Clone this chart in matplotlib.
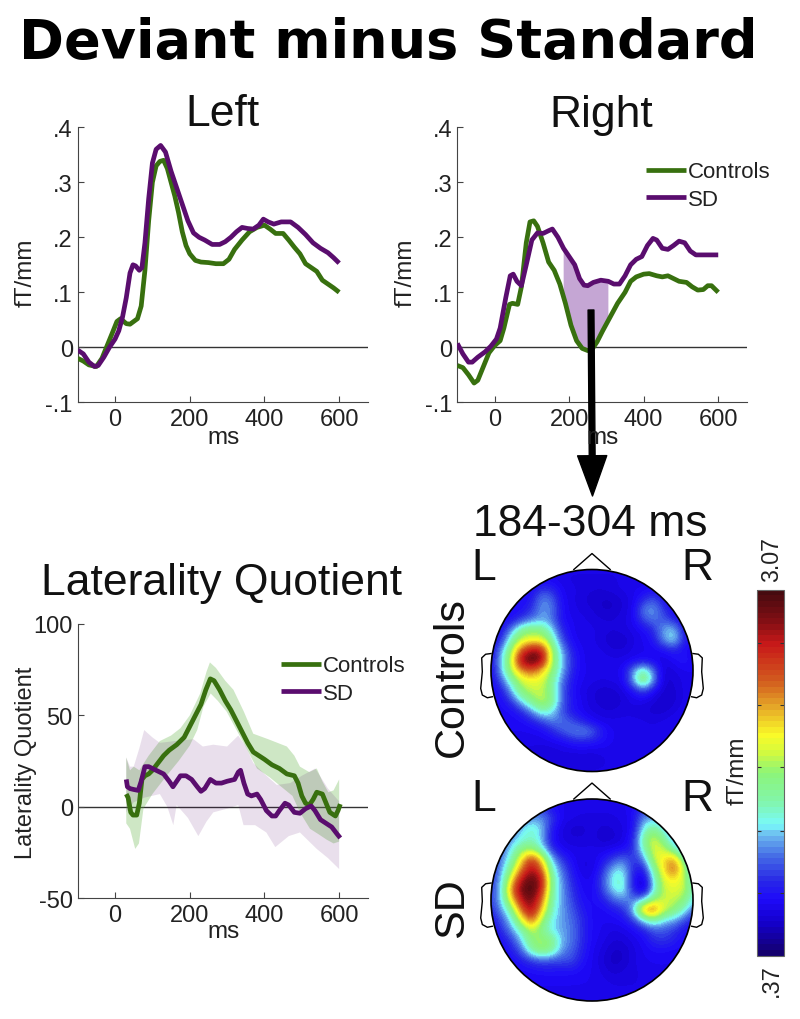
import matplotlib
matplotlib.use('Agg')
import matplotlib.pyplot as plt
import numpy as np
from matplotlib.colors import LinearSegmentedColormap
from matplotlib.patches import Circle

plt.rcParams['font.family'] = ['Liberation Sans', 'DejaVu Sans']

GREEN = '#38700f'
PURPLE = '#5a0d6e'
GREY = '#444444'

#################### DATA ####################
left_ctrl_ms = [-100, -85, -70, -50, -35, -20, -5, 5, 15, 30, 40, 50, 60, 70, 80, 90, 100, 110, 120, 130, 140, 150, 160, 170, 180, 190, 200, 215, 230, 250, 270, 290, 305, 320, 340, 360, 380, 400, 415, 430, 450, 465, 480, 495, 510, 525, 540, 555, 570, 585, 600]
left_ctrl = [-.02, -.025, -.032, -.035, -.02, .005, .03, .047, .052, .043, .042, .047, .052, .075, .14, .23, .30, .33, .338, .34, .325, .30, .275, .245, .21, .185, .17, .158, .155, .154, .152, .152, .16, .178, .195, .21, .218, .222, .215, .207, .207, .195, .182, .17, .152, .145, .138, .122, .115, .108, .10]
left_sd_ms = [-100, -85, -70, -55, -45, -30, -15, 0, 10, 20, 30, 40, 48, 55, 65, 72, 80, 90, 100, 110, 122, 135, 150, 165, 180, 195, 210, 225, 240, 260, 280, 295, 310, 325, 340, 355, 370, 385, 397, 410, 425, 445, 470, 490, 510, 530, 550, 570, 585, 600]
left_sd = [-.005, -.012, -.027, -.035, -.033, -.018, 0, .015, .03, .055, .09, .135, .15, .148, .14, .145, .19, .27, .335, .36, .367, .355, .32, .29, .26, .23, .208, .2, .195, .187, .187, .192, .2, .21, .218, .216, .215, .222, .233, .228, .224, .228, .228, .218, .205, .19, .18, .172, .163, .153]

right_ctrl_ms = [-100, -85, -70, -55, -45, -30, -15, 0, 15, 25, 40, 48, 62, 72, 85, 95, 105, 115, 130, 145, 160, 175, 190, 205, 220, 235, 250, 262, 275, 290, 310, 330, 350, 365, 380, 400, 415, 435, 450, 465, 480, 495, 515, 530, 545, 560, 572, 582, 600]
right_ctrl = [-.033, -.037, -.05, -.065, -.06, -.035, -.01, .003, .012, .035, .078, .08, .078, .11, .19, .228, .23, .22, .19, .155, .14, .115, .08, .04, .012, -.002, -.006, -.003, .01, .03, .055, .08, .1, .12, .128, .133, .134, .13, .128, .13, .125, .12, .118, .11, .104, .105, .112, .112, .1]
right_sd_ms = [-100, -85, -70, -60, -45, -25, -10, 5, 15, 30, 42, 50, 60, 72, 85, 100, 115, 130, 145, 155, 170, 185, 200, 215, 228, 240, 250, 265, 285, 305, 320, 335, 350, 365, 380, 395, 410, 425, 435, 450, 465, 480, 495, 510, 525, 540, 560, 580, 600]
right_sd = [.007, -.012, -.027, -.027, -.018, -.008, .002, .015, .035, .09, .13, .133, .12, .112, .15, .195, .208, .207, .212, .215, .2, .18, .165, .15, .125, .113, .112, .118, .122, .12, .115, .115, .13, .15, .16, .165, .185, .198, .195, .18, .178, .185, .193, .19, .175, .168, .168, .168, .168]

shade_ms = [184, 200, 215, 228, 240, 250, 265, 285, 304]
shade_top = [.18, .165, .15, .125, .113, .112, .118, .122, .12]
shade_bottom = [.095, .053, .02, .005, -.002, -.006, 0, .023, .047]

lq_ctrl_ms = [30, 35, 42, 48, 58, 65, 72, 80, 90, 100, 115, 130, 145, 165, 185, 200, 215, 230, 243, 255, 265, 280, 295, 310, 325, 340, 355, 370, 385, 400, 420, 440, 460, 480, 490, 500, 510, 520, 530, 540, 555, 565, 575, 590, 597, 603]
lq_ctrl = [7, 5, -3, -4.5, -4.5, 2, 15, 17, 18, 20, 24, 28, 31, 34, 38, 44, 50, 56, 64, 70, 69, 64, 58, 53, 47, 41, 35, 30, 28, 26, 23, 21, 18, 17, 13, 6, 2, 1, 4, 8, 7, 2, -3, -5, -2, 1.5]
lq_sd_ms = [30, 33, 40, 50, 62, 70, 80, 90, 100, 115, 130, 145, 155, 165, 175, 190, 205, 220, 230, 240, 255, 270, 285, 300, 320, 330, 336, 345, 355, 365, 380, 390, 405, 420, 430, 440, 455, 465, 480, 495, 510, 525, 535, 550, 565, 580, 595, 603]
lq_sd = [15, 11, 10, 9.5, 9, 14, 22, 22, 21, 19.5, 18, 14, 11, 14, 17, 17, 15, 11, 8.5, 10, 15, 13, 13, 14, 15, 19, 20, 13, 7, 6, 7, 4, -2, -5, -5, -2, 2, 1, -3, -3.5, -1, .5, -2, -7, -9, -11, -15, -17]

lq_ctrl_up_ms = [30, 40, 50, 65, 90, 120, 150, 175, 200, 228, 245, 254, 270, 295, 317, 345, 370, 410, 460, 480, 495, 520, 540, 555, 571, 585, 600]
lq_ctrl_up = [27, 20, 22, 20, 28, 36, 39, 43, 50, 62, 74, 79, 76, 69, 64, 52, 40, 37, 33, 28, 22, 19, 21, 14, 8, 9, 15]
lq_ctrl_lo_ms = [30, 40, 54, 64, 76, 100, 138, 170, 200, 220, 237, 256, 275, 299, 320, 344, 380, 415, 451, 475, 495, 522, 545, 567, 585, 600]
lq_ctrl_lo = [-9, -12, -23, -20, -1, 7, 17, 25, 33.5, 42, 55, 62, 58, 52, 44, 35, 21, 16, 10, 6, -3, -12, -15, -18, -20, -19]
lq_sd_up_ms = [30, 40, 50, 65, 78, 100, 120, 160, 210, 235, 263, 300, 330, 350, 370, 400, 433, 469, 500, 536, 570, 600]
lq_sd_up = [27, 22, 22, 32, 42, 38, 35, 36, 37, 33, 34, 33, 39, 33, 24, 18, 12, 13, 17, 21, 10, 3]
lq_sd_lo_ms = [30, 50, 78, 120, 140, 156, 165, 195, 223, 245, 263, 300, 330, 344, 375, 405, 429, 465, 495, 520, 540, 570, 600]
lq_sd_lo = [-3, 2.5, 5, 7, 0, -10, 1, -6, -16, -8, -3, -1, 1, -10, -10, -14, -22, -16, -14, -19, -23, -28, -34]

# percent of the colour bar range, rows top to bottom of the head
topo_ctrl = [
    [13, 13, 13, 13, 13, 13, 13, 13, 13, 13, 13, 13, 13, 13, 13, 13, 13, 13, 13, 13, 13],
    [14, 14, 14, 14, 14, 14, 14, 13, 12, 12, 12, 12, 12, 13, 13, 13, 13, 13, 13, 13, 13],
    [15, 15, 15, 15, 15, 22, 20, 14, 13, 12, 11, 11, 12, 13, 14, 14, 16, 15, 14, 14, 14],
    [15, 15, 15, 15, 18, 30, 27, 15, 13, 11, 10, 9, 9, 11, 13, 20, 25, 17, 14, 14, 14],
    [15, 15, 15, 16, 21, 31, 29, 16, 13, 12, 11, 9, 9, 11, 14, 29, 32, 22, 15, 14, 14],
    [15, 15, 16, 23, 28, 32, 28, 16, 14, 13, 12, 11, 11, 12, 14, 24, 28, 25, 20, 14, 14],
    [15, 16, 30, 46, 50, 48, 36, 20, 14, 13, 13, 12, 11, 12, 13, 15, 20, 32, 36, 18, 14],
    [15, 20, 42, 56, 58, 58, 44, 24, 15, 13, 13, 11, 9, 9, 12, 14, 17, 30, 38, 20, 14],
    [15, 30, 52, 76, 90, 88, 52, 32, 18, 14, 13, 13, 11, 11, 13, 14, 14, 16, 19, 15, 14],
    [15, 34, 56, 92, 100, 92, 54, 34, 20, 14, 13, 13, 13, 13, 14, 15, 14, 12, 15, 18, 14],
    [15, 32, 54, 70, 76, 65, 50, 33, 19, 14, 14, 14, 14, 14, 30, 45, 28, 11, 12, 14, 14],
    [15, 25, 42, 56, 58, 58, 45, 28, 17, 14, 13, 12, 13, 14, 32, 54, 32, 10, 11, 13, 14],
    [15, 17, 32, 50, 55, 55, 45, 26, 16, 13, 11, 10, 10, 12, 16, 24, 15, 10, 10, 13, 14],
    [15, 15, 22, 36, 47, 56, 48, 26, 17, 14, 11, 10, 9, 11, 13, 13, 11, 9, 10, 13, 14],
    [15, 15, 15, 20, 30, 42, 37, 24, 17, 14, 12, 11, 11, 12, 12, 11, 10, 10, 12, 14, 14],
    [15, 15, 15, 15, 18, 23, 29, 28, 24, 19, 15, 13, 13, 13, 13, 13, 12, 13, 14, 14, 14],
    [14, 14, 14, 14, 14, 15, 19, 25, 29, 31, 27, 18, 14, 13, 13, 13, 13, 14, 14, 14, 14],
    [13, 13, 13, 13, 13, 13, 14, 15, 18, 19, 18, 16, 14, 13, 13, 13, 14, 14, 14, 14, 14],
    [13, 13, 13, 12, 12, 11, 11, 12, 12, 13, 12, 13, 13, 14, 14, 14, 14, 14, 14, 14, 14],
    [13, 13, 13, 13, 12, 12, 12, 12, 11, 10, 11, 12, 13, 14, 14, 14, 14, 14, 14, 14, 14],
    [13, 13, 13, 13, 13, 13, 13, 13, 13, 13, 13, 13, 13, 14, 14, 14, 14, 14, 14, 14, 14],
]
topo_sd = [
    [15, 15, 15, 15, 15, 15, 15, 14, 14, 14, 14, 14, 14, 14, 14, 15, 15, 15, 15, 15, 15],
    [18, 18, 18, 20, 22, 22, 17, 14, 13, 13, 13, 13, 13, 14, 15, 22, 22, 18, 16, 15, 15],
    [20, 20, 22, 26, 30, 31, 22, 14, 13, 12, 12, 12, 12, 13, 15, 30, 32, 28, 22, 18, 15],
    [20, 22, 28, 34, 40, 34, 18, 12, 10, 10, 12, 10, 11, 12, 16, 36, 46, 36, 25, 18, 15],
    [20, 24, 30, 36, 40, 33, 16, 12, 11, 11, 12, 9, 10, 12, 18, 44, 58, 46, 30, 20, 15],
    [20, 26, 35, 48, 50, 38, 20, 14, 13, 13, 13, 13, 14, 15, 20, 40, 58, 55, 42, 27, 18],
    [20, 28, 40, 62, 82, 62, 33, 21, 15, 12, 13, 16, 22, 28, 20, 28, 55, 62, 70, 46, 24],
    [20, 30, 48, 72, 90, 75, 40, 27, 17, 12, 12, 20, 34, 36, 20, 16, 44, 62, 78, 54, 32],
    [20, 33, 60, 88, 97, 88, 44, 30, 19, 14, 14, 24, 38, 40, 17, 9, 36, 58, 62, 56, 36],
    [22, 34, 72, 95, 100, 85, 44, 31, 21, 15, 14, 23, 36, 40, 19, 8, 34, 55, 58, 56, 38],
    [22, 34, 62, 88, 95, 75, 42, 31, 23, 16, 15, 18, 26, 30, 27, 32, 50, 55, 55, 50, 34],
    [20, 30, 45, 75, 92, 65, 40, 31, 25, 18, 15, 15, 17, 20, 33, 72, 78, 58, 50, 40, 26],
    [16, 24, 36, 58, 78, 52, 36, 31, 27, 20, 15, 14, 15, 16, 22, 36, 46, 36, 33, 25, 18],
    [15, 20, 30, 42, 55, 46, 35, 31, 28, 20, 15, 14, 12, 13, 15, 18, 25, 25, 22, 17, 15],
    [15, 16, 22, 34, 50, 52, 48, 32, 28, 20, 15, 13, 11, 11, 13, 15, 20, 22, 19, 15, 15],
    [15, 15, 18, 26, 44, 52, 45, 30, 26, 19, 14, 12, 9, 9, 12, 14, 16, 16, 15, 15, 15],
    [15, 15, 15, 18, 22, 25, 24, 24, 24, 17, 14, 11, 8, 9, 12, 14, 14, 14, 14, 14, 14],
    [14, 14, 15, 15, 16, 17, 17, 17, 17, 15, 14, 12, 10, 11, 12, 13, 14, 14, 14, 14, 14],
    [14, 14, 14, 14, 14, 14, 14, 14, 14, 14, 14, 13, 12, 12, 12, 13, 14, 14, 14, 14, 14],
    [14, 14, 14, 14, 14, 14, 14, 14, 14, 14, 14, 14, 13, 13, 13, 13, 14, 14, 14, 14, 14],
    [14, 14, 14, 14, 14, 14, 14, 14, 14, 14, 14, 14, 14, 14, 14, 14, 14, 14, 14, 14, 14],
]
cbar_min = .37
cbar_max = 3.07
cbar_ticks = [.83, 1.29, 1.76, 2.22, 2.68]

# colours of the bar, read from bottom to top
cbar_pos = [0, .08, .15, .2, .27, .33, .355, .42, .5, .56, .605, .68, .755, .855, .92, 1]
cbar_colours = ['#14006e', '#1400c8', '#1e0afa', '#2828e6', '#466ee6', '#6ebef0', '#78fafa', '#82f5aa',
                '#8cf578', '#d7fa3c', '#fafa28', '#e6aa28', '#d25a1e', '#c81919', '#820f14', '#460a0f']

nose_x = [-.18, 0, .18]
nose_y = [1.0, 1.158, 1.0]
ear_x = [1.0, 1.053, 1.092, 1.086, 1.102, 1.086, 1.036, .987]
ear_y = [.168, .161, .125, -.013, -.178, -.243, -.27, -.26]

ms_ticks = [0, 200, 400, 600]
ft_ticks = [-.1, 0, .1, .2, .3, .4]
ft_labels = ['-.1', '0', '.1', '.2', '.3', '.4']
lq_ticks = [-50, 0, 50, 100]
lq_labels = ['-50', '0', '50', '100']

#################### FIGURE ####################
fig = plt.figure(figsize=(8, 10.2), dpi=100)


def px_axes(l, t, r, b):
    return fig.add_axes([l / 800, 1 - b / 1020, (r - l) / 800, (b - t) / 1020])


def px_text(x, y, s, size, **kw):
    kw.setdefault('ha', 'center')
    kw.setdefault('va', 'center')
    fig.text(x / 800, 1 - y / 1020, s, fontsize=size, **kw)


def style_axes(ax):
    ax.spines['top'].set_visible(False)
    ax.spines['right'].set_visible(False)
    ax.spines['left'].set_color(GREY)
    ax.spines['bottom'].set_color(GREY)
    ax.patch.set_alpha(0)
    ax.axhline(0, color='#333333', lw=1, zorder=1.5)
    ax.set_xlim(-100, 678)
    ax.set_xticks(ms_ticks)
    ax.tick_params(direction='in', length=4, width=.8, color=GREY, labelsize=17, pad=3.5, labelcolor='#222222')
    ax.tick_params(axis='x', pad=4)


def draw_line(ax, x, y, colour, z):
    ax.plot(x, y, color=colour, lw=3.4, solid_capstyle='butt', solid_joinstyle='round', zorder=z)


def legend_at(ax, x, y):
    # x, y in pixels of the figure
    lines = ax.get_lines()
    leg = ax.legend([lines[-2], lines[-1]], ['Controls', 'SD'], frameon=False, fontsize=16,
                    handlelength=1.8, handletextpad=.08, labelspacing=.28, borderpad=0, borderaxespad=0,
                    loc='upper left', bbox_to_anchor=(x / 800, 1 - y / 1020), bbox_transform=fig.transFigure)
    for t in leg.get_texts():
        t.set_color('#222222')


#################### LEFT ####################
ax1 = px_axes(77.7, 128.3, 368.3, 403.3)
style_axes(ax1)
draw_line(ax1, left_ctrl_ms, left_ctrl, GREEN, 3)
draw_line(ax1, left_sd_ms, left_sd, PURPLE, 4)
ax1.set_ylim(-.1, .4)
ax1.set_yticks(ft_ticks, ft_labels)

#################### RIGHT ####################
ax2 = px_axes(457.3, 128.3, 747.3, 403.3)
style_axes(ax2)
ax2.fill_between(shade_ms, shade_bottom, shade_top, color='#c5a6d4', lw=0, zorder=2)
draw_line(ax2, right_ctrl_ms, right_ctrl, GREEN, 3)
draw_line(ax2, right_sd_ms, right_sd, PURPLE, 4)
ax2.set_ylim(-.1, .4)
ax2.set_yticks(ft_ticks, ft_labels)
legend_at(ax2, 646, 162.5)

#################### LATERALITY ####################
ax3 = px_axes(77.7, 625, 368.3, 899.3)
style_axes(ax3)
ax3.fill(lq_ctrl_up_ms + lq_ctrl_lo_ms[::-1], lq_ctrl_up + lq_ctrl_lo[::-1], color='#5fb040', alpha=.3, lw=0, zorder=2)
ax3.fill(lq_sd_up_ms + lq_sd_lo_ms[::-1], lq_sd_up + lq_sd_lo[::-1], color=PURPLE, alpha=.13, lw=0, zorder=2)
draw_line(ax3, lq_ctrl_ms, lq_ctrl, GREEN, 3)
draw_line(ax3, lq_sd_ms, lq_sd, PURPLE, 4)
ax3.set_ylim(-50, 100)
ax3.set_yticks(lq_ticks, lq_labels)
legend_at(ax3, 281, 656.5)

#################### HEADS ####################
bar_map = LinearSegmentedColormap.from_list('bar', list(zip(cbar_pos, cbar_colours)), N=64)


def draw_head(cy, pct):
    ax = px_axes(592 - 131.3, cy - 131.3, 592 + 131.3, cy + 131.3)
    ax.set_xlim(-1.3, 1.3)
    ax.set_ylim(-1.3, 1.3)
    ax.axis('off')
    vals = cbar_min + np.array(pct) / 100 * (cbar_max - cbar_min)
    im = ax.imshow(vals, extent=[-1.05, 1.05, -1.05, 1.05], origin='upper', cmap=bar_map,
                   vmin=cbar_min, vmax=cbar_max, interpolation='bicubic', interpolation_stage='data', zorder=1)
    ring = Circle((0, 0), 1, transform=ax.transData, fc='none', ec='black', lw=1.2, zorder=3)
    ax.add_patch(ring)
    im.set_clip_path(ring)
    ax.plot(nose_x, nose_y, color='black', lw=1, clip_on=False)
    ax.plot(ear_x, ear_y, color='black', lw=1, clip_on=False)
    ax.plot([-v for v in ear_x], ear_y, color='black', lw=1, clip_on=False)
    ax.set_aspect('equal')
    return im


im1 = draw_head(671.5, topo_ctrl)
draw_head(901, topo_sd)

cax = px_axes(757.3, 590.7, 784.3, 956.7)
cb = fig.colorbar(im1, cax=cax, ticks=cbar_ticks)
cb.ax.tick_params(direction='in', length=3, width=.8, left=True, right=True, labelleft=False, labelright=False, color='#333333')
cb.outline.set_edgecolor('#666666')
cb.outline.set_linewidth(.8)

#################### TEXTS ####################
px_text(388, 43, 'Deviant minus Standard', 39, family='DejaVu Sans', fontweight='bold')
px_text(222, 115, 'Left', 32, color='#111111')
px_text(601, 115, 'Right', 32, color='#111111')
px_text(222, 584, 'Laterality Quotient', 32, color='#111111')
px_text(590, 525, '184-304 ms', 32, color='#111111')

px_text(224, 438, 'ms', 17.5, color='#222222')
px_text(603, 438, 'ms', 17.5, color='#222222')
px_text(224, 932, 'ms', 17.5, color='#222222')
px_text(26, 273, 'fT/mm', 17.5, rotation=90, color='#222222')
px_text(406, 273, 'fT/mm', 17.5, rotation=90, color='#222222')
px_text(26, 763, 'Laterality Quotient', 17, rotation=90, color='#222222')

px_text(484, 569, 'L', 32, color='#111111')
px_text(697, 569, 'R', 32, color='#111111')
px_text(484, 800, 'L', 32, color='#111111')
px_text(697, 800, 'R', 32, color='#111111')
px_text(452, 677, 'Controls', 31, rotation=90, color='#111111')
px_text(452, 908, 'SD', 31, rotation=90, color='#111111')
px_text(772, 560, '3.07', 16.7, rotation=90, color='#222222')
px_text(772, 981, '.37', 17, rotation=90, color='#222222')
px_text(738, 771, 'fT/mm', 17.5, rotation=90, color='#222222')

# arrow from the shaded window down to the maps
fig.add_artist(plt.Annotation('', xy=(592.5 / 800, 1 - 497 / 1020), xytext=(591 / 800, 1 - 311 / 1020),
                              xycoords='figure fraction', textcoords='figure fraction',
                              arrowprops=dict(facecolor='black', edgecolor='black', width=4.2, headwidth=21, headlength=29, shrink=0)))

fig.savefig('out.png', dpi=100)
